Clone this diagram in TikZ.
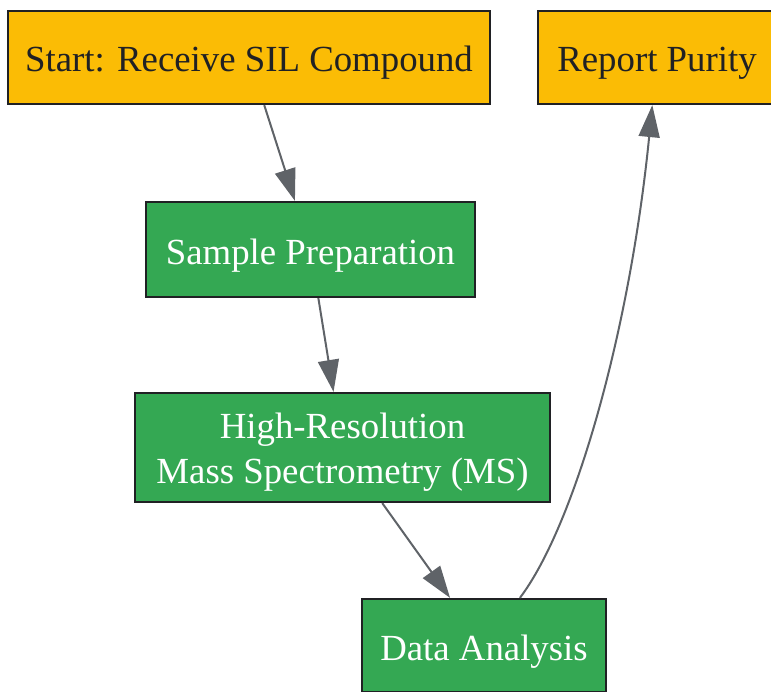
\documentclass[tikz,border=0pt]{standalone}
\usepackage{fontspec}
\setmainfont{Liberation Serif}
\usetikzlibrary{arrows.meta}
\definecolor{gyellow}{HTML}{FBBC05}
\definecolor{ggreen}{HTML}{34A853}
\definecolor{gdark}{HTML}{202124}
\definecolor{ggray}{HTML}{5F6368}
\tikzset{
  box/.style={draw=gdark, line width=2.2bp, rectangle, inner sep=0pt,
    font=\fontsize{36.8bp}{44.8bp}\selectfont, text height=29bp, text depth=0bp,
    minimum height=93bp},
  startbox/.style={box, fill=gyellow, text=gdark},
  stepbox/.style={box, fill=ggreen, text=white},
  conn/.style={draw=ggray, line width=2bp, -{Triangle[length=32bp,width=21bp]}}
}
\begin{document}
\begin{tikzpicture}[x=1bp,y=-1bp]
\useasboundingbox (0,0) rectangle (771,692);
\node[startbox, minimum width=482bp] (start) at (249,57.5) {Start: Receive SIL Compound};
\node[startbox, minimum width=238bp] (report) at (657,57.5) {Report Purity};
\node[stepbox, minimum width=329bp, minimum height=95bp] (sample) at (310.5,249.5) {Sample Preparation};
\node[stepbox, minimum width=415bp, minimum height=109bp, align=center, text height=71bp, text depth=0bp] (hrms) at (342.5,447.5) {High-Resolution\\Mass Spectrometry (MS)};
\node[stepbox, minimum width=244bp] (data) at (484,645.5) {Data Analysis};
\draw[conn] (start) -- (sample);
\draw[conn] (sample) -- (hrms);
\draw[conn] (hrms) -- (data);
\draw[conn] (data) .. controls (575,525) and (630,330) .. (report);
\end{tikzpicture}
\end{document}
